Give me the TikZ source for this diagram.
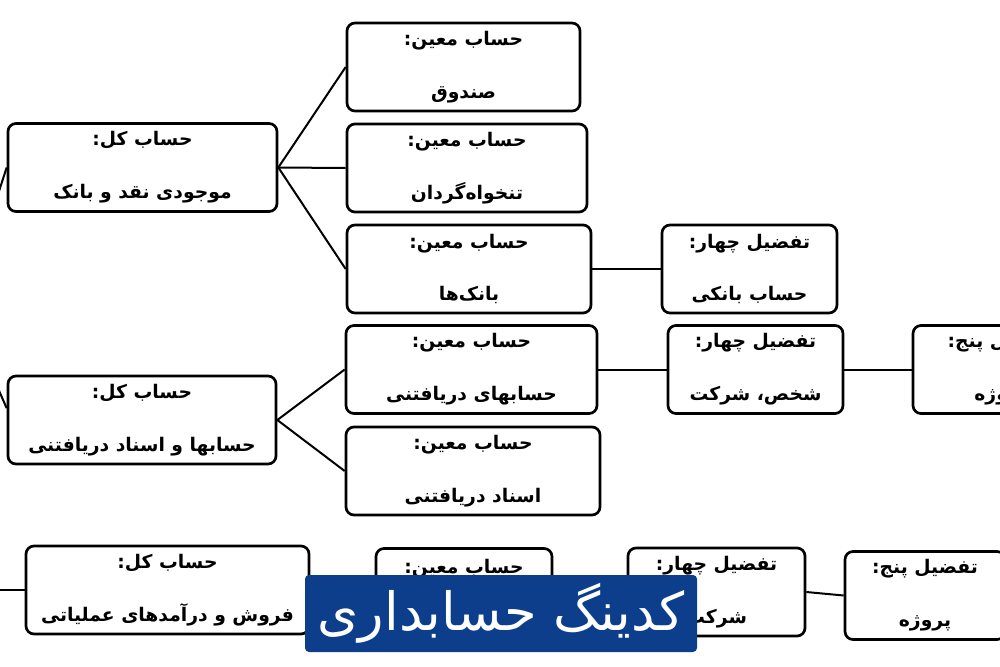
\documentclass[tikz,border=0pt]{standalone}
\usepackage{fontspec}
\newfontfamily\farsi[Script=Arabic]{DejaVu Sans}
\TeXXeTstate=1
\definecolor{bannerblue}{RGB}{12,62,140}
\tikzset{
  acct/.style={draw, line width=0.8mm, rounded corners=2.4mm, minimum height=26.4mm,
    inner sep=0pt, align=center, font=\farsi\bfseries\fontsize{16}{45}\selectfont},
  link/.style={line width=0.6mm},
  banner/.style={fill=bannerblue, text=white, rounded corners=1.2mm, minimum width=117.6mm,
    minimum height=23.1mm, inner sep=0pt, font=\farsi\fontsize{45}{50}\selectfont},
}
\begin{document}
\begin{tikzpicture}[x=0.3mm,y=-0.3mm]
  \useasboundingbox (0,0) rectangle (1000,667);
  \clip (0,0) rectangle (1000,667);
  % boxes: name/centre x/centre y/width/heading/account
  \foreach \n/\cx/\cy/\w/\hd/\nm in {
    k1/142.5/167.5/269/حساب کل:/موجودی نقد و بانک,
    m1/463.5/67/233/حساب معین:/صندوق,
    m2/467/168/240/حساب معین:/تنخواه‌گردان,
    m3/469/269/244/حساب معین:/بانک‌ها,
    t4a/749.5/269/175/تفضیل چهار:/حساب بانکی,
    m4/471.5/369.5/251/حساب معین:/حسابهای دریافتنی,
    t4b/755.5/369.5/175/تفضیل چهار:/شخص، شرکت,
    t5a/1000.5/369.5/175/تفضیل پنج:/پروژه,
    m5/473/471/254/حساب معین:/اسناد دریافتنی,
    k2/142/420/268/حساب کل:/حسابها و اسناد دریافتنی,
    k3/167.5/590/283/حساب کل:/فروش و درآمدهای عملیاتی,
    m6/464/592.5/176/حساب معین:/,
    t4c/716.5/592/177/تفضیل چهار:/شرکت,
    t5b/925/595.5/160/تفضیل پنج:/پروژه}
    \node[acct, minimum width=\w*0.3mm] (\n) at (\cx,\cy) {\beginR\hd\endR\\\beginR\nm\endR};
  % links between levels
  \foreach \a/\b in {k1/m1,k1/m2,k1/m3,m3/t4a,k2/m4,k2/m5,m4/t4b,t4b/t5a,k3/m6,m6/t4c,t4c/t5b}
    \draw[link] (\a.east) -- (\b.west);
  \coordinate (in1) at (-10,219);
  \coordinate (in2) at (-10,370);
  \coordinate (in3) at (-10,590);
  \draw[link] (in1) -- (k1.west);
  \draw[link] (in2) -- (k2.175);
  \draw[link] (in3) -- (k3.west);
  \node[banner] (title) at (501,613.5) {\beginR کدینگ حسابداری\endR};
\end{tikzpicture}
\end{document}
